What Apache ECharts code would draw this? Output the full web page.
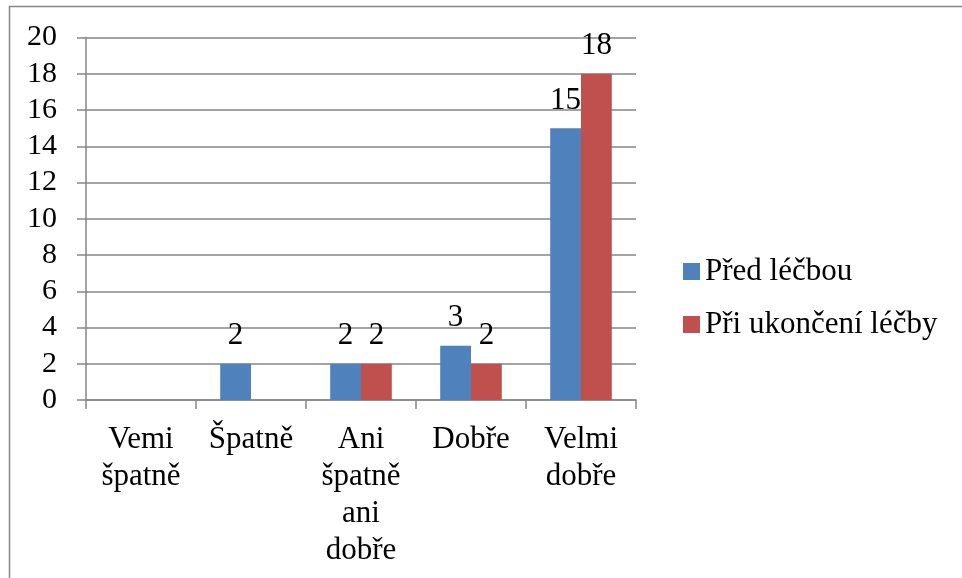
<!DOCTYPE html>
<html>
<head>
<meta charset="utf-8">
<script src="https://cdn.jsdelivr.net/npm/echarts@6/dist/echarts.min.js"></script>
<style>
  html, body { margin: 0; padding: 0; background: #fff; }
  #chart { width: 962px; height: 578px; }
</style>
</head>
<body>
<div id="chart"></div>
<script>
  // data
  var categories = ['Vemi špatně', 'Špatně', 'Ani špatně ani dobře', 'Dobře', 'Velmi dobře'];
  var seriesNames = ['Před léčbou', 'Při ukončení léčby'];
  var beforeValues = [null, 2, 2, 3, 15];
  var afterValues = [null, null, 2, 2, 18];

  var font = "'Liberation Serif', serif";
  var gray = '#868686';

  var chart = echarts.init(document.getElementById('chart'));
  var barLabel = {
    show: true,
    position: 'top',
    distance: 12,
    color: '#000',
    fontFamily: font,
    fontSize: 31
  };
  var option = {
    animation: false,
    backgroundColor: '#fff',
    textStyle: { fontFamily: font },
    graphic: [{
      type: 'rect',
      shape: { x: 9.5, y: 6.5, width: 1000, height: 1000 },
      style: { fill: 'none', stroke: gray, lineWidth: 1.5 }
    }],
    grid: { left: 86, right: 326, top: 37.5, bottom: 178 },
    legend: {
      orient: 'vertical',
      left: 678,
      top: 251,
      itemWidth: 17,
      itemHeight: 17,
      itemGap: 22,
      icon: 'rect',
      textStyle: { fontFamily: font, fontSize: 31, color: '#000' },
      data: seriesNames
    },
    xAxis: {
      type: 'category',
      data: categories,
      axisLine: { lineStyle: { color: gray, width: 1.5 } },
      axisTick: { show: true, length: 9, lineStyle: { color: gray, width: 1.5 } },
      axisLabel: {
        interval: 0,
        margin: 21,
        color: '#000',
        fontFamily: font,
        fontSize: 31,
        lineHeight: 37,
        formatter: function (v) { return v.split(' ').join('\n'); }
      }
    },
    yAxis: {
      type: 'value',
      min: 0,
      max: 20,
      interval: 2,
      axisLine: { show: true, lineStyle: { color: gray, width: 1.5 } },
      axisTick: { show: true, length: 9, lineStyle: { color: gray, width: 1.5 } },
      axisLabel: { margin: 29, color: '#000', fontFamily: font, fontSize: 30 },
      splitLine: { lineStyle: { color: gray, width: 1.5 } }
    },
    series: [
      {
        name: seriesNames[0],
        type: 'bar',
        data: beforeValues,
        barGap: '0%',
        barCategoryGap: '44%',
        itemStyle: { color: '#4F81BD' },
        label: barLabel
      },
      {
        name: seriesNames[1],
        type: 'bar',
        data: afterValues,
        itemStyle: { color: '#C0504D' },
        label: barLabel
      }
    ]
  };
  chart.setOption(option);
</script>
</body>
</html>
